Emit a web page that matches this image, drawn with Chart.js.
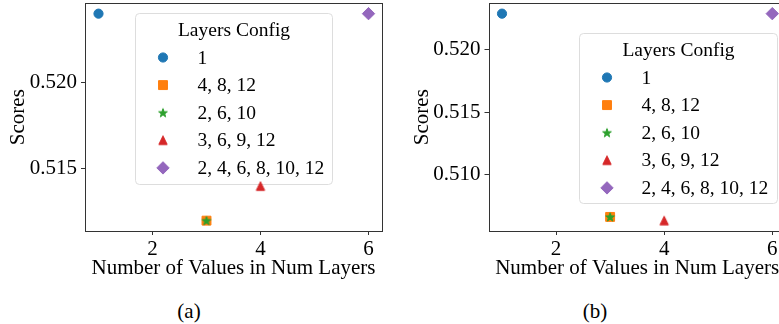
<!DOCTYPE html>
<html>
<head>
<meta charset="utf-8">
<script src="https://cdn.jsdelivr.net/npm/chart.js@4.4.0/dist/chart.umd.min.js"></script>
<style>
  html, body { margin: 0; padding: 0; background: #fff; overflow: hidden; width: 779px; height: 324px; }
  /* the layout leaves about 7px above the plot area; shift up so the frame sits at y=3 */
  canvas { position: absolute; top: -4px; }
  .caption { position: absolute; top: 298px; font-family: 'Liberation Serif', serif; font-size: 21px; line-height: 26px; color: #000; transform: translateX(-50%); }
</style>
</head>
<body>
<canvas id="chartA" width="390" height="294" style="left:0"></canvas>
<canvas id="chartB" width="410" height="294" style="left:390px"></canvas>
<div class="caption" style="left:189px">(a)</div>
<div class="caption" style="left:595px">(b)</div>
<script>
const configLabels = ['1', '4, 8, 12', '2, 6, 10', '3, 6, 9, 12', '2, 4, 6, 8, 10, 12'];
const numValues = [1, 3, 3, 4, 6];
const scoresA = [0.5240, 0.5120, 0.5120, 0.5140, 0.5240];
const scoresB = [0.5229, 0.5066, 0.5066, 0.5063, 0.5229];
const xTicks = [2, 4, 6];
const yTicksA = [0.515, 0.520];
const yTicksB = [0.510, 0.515, 0.520];
const colors = ['#1f77b4', '#ff7f0e', '#2ca02c', '#d62728', '#9467bd'];

const serif = "'Liberation Serif', 'Times New Roman', serif";

// matplotlib-like filled markers drawn on small canvases
function markerCanvas(color, drawPath) {
    const c = document.createElement('canvas');
    c.width = 12;
    c.height = 12;
    const g = c.getContext('2d');
    g.beginPath();
    drawPath(g);
    g.closePath();
    g.fillStyle = color;
    g.strokeStyle = color;
    g.lineWidth = 1;
    g.fill();
    g.stroke();
    return c;
}

const starImg = markerCanvas(colors[2], g => {
    for (let i = 0; i < 10; i++) {
        const r = i % 2 === 0 ? 4.6 : 1.8;
        const a = -Math.PI / 2 + i * Math.PI / 5;
        g.lineTo(6 + r * Math.cos(a), 6.4 + r * Math.sin(a));
    }
});
const triangleImg = markerCanvas(colors[3], g => {
    g.moveTo(6, 1.6);
    g.lineTo(10.2, 10.2);
    g.lineTo(1.8, 10.2);
});

const markerStyles = ['circle', 'rect', starImg, triangleImg, 'rectRot'];
const markerRadii = [4.6, 6.3, 6, 6, 6.2];

function limits(values, frac) {
    const lo = Math.min(...values), hi = Math.max(...values);
    const pad = (hi - lo) * frac;
    return [lo - pad, hi + pad];
}

function noPadding(s) {
    s.paddingTop = 0;
    s.paddingBottom = 0;
    s.paddingLeft = 0;
    s.paddingRight = 0;
}

const framePlugin = {
    id: 'frame',
    afterDatasetsDraw(chart) {
        const { ctx, chartArea: a } = chart;
        ctx.save();
        ctx.strokeStyle = '#333';
        ctx.lineWidth = 1;
        ctx.strokeRect(Math.round(a.left) + 0.5, Math.round(a.top) + 0.5,
            Math.round(a.right - a.left), Math.round(a.bottom - a.top));
        ctx.restore();
    }
};

const boxLegend = {
    id: 'boxLegend',
    beforeDatasetsDraw(chart, args, opts) {
        const { ctx, chartArea } = chart;
        const x = Math.round(chartArea.left + opts.dx) + 0.5;
        const y = Math.round(chartArea.top + opts.dy) + 0.5;
        ctx.save();
        ctx.beginPath();
        ctx.roundRect(x, y, opts.width, opts.height, 4);
        ctx.fillStyle = 'rgba(255,255,255,0.8)';
        ctx.fill();
        ctx.strokeStyle = '#dddddd';
        ctx.lineWidth = 1;
        ctx.stroke();
        ctx.font = '19.5px ' + serif;
        ctx.fillStyle = '#000';
        ctx.textBaseline = 'middle';
        ctx.textAlign = 'center';
        ctx.fillText(opts.title, x + opts.width / 2, y + 17);
        ctx.textAlign = 'left';
        chart.data.datasets.forEach((ds, i) => {
            const ry = y + 44 + i * 27.6;
            ctx.fillStyle = ds.backgroundColor;
            ctx.strokeStyle = ds.borderColor;
            Chart.helpers.drawPoint(ctx, {
                pointStyle: ds.pointStyle, radius: ds.pointRadius, rotation: 0, borderWidth: 1
            }, x + 27.5, ry);
            ctx.fillStyle = '#000';
            ctx.fillText(ds.label, x + 62, ry + 1);
        });
        ctx.restore();
    }
};

function makeChart(canvasId, scores, yTicks, yWidth, yTitlePad, legendPos) {
    const [xMin, xMax] = limits(numValues, 0.05);
    const [yMin, yMax] = limits(scores, 0.05);
    const datasets = configLabels.map((label, i) => ({
        label: label,
        data: [{ x: numValues[i], y: scores[i] }],
        backgroundColor: colors[i],
        borderColor: colors[i],
        borderWidth: 1,
        pointStyle: markerStyles[i],
        pointRadius: markerRadii[i],
        order: configLabels.length - i
    }));

    const tickFont = { family: serif, size: 21 };

    return new Chart(document.getElementById(canvasId), {
        type: 'scatter',
        data: { datasets: datasets },
        options: {
            responsive: false,
            animation: false,
            layout: { padding: { top: 3, right: legendPos.right, left: 0, bottom: 0 } },
            plugins: {
                legend: { display: false },
                tooltip: { enabled: false },
                boxLegend: legendPos
            },
            scales: {
                x: {
                    type: 'linear',
                    min: xMin,
                    max: xMax,
                    afterBuildTicks: s => { s.ticks = xTicks.map(v => ({ value: v })); },
                    afterFit: s => { s.height = 59; noPadding(s); },
                    ticks: { font: tickFont, color: '#000', padding: 2, callback: v => String(v) },
                    grid: { drawOnChartArea: false, drawTicks: true, tickLength: 4, color: '#333' },
                    border: { display: false },
                    title: {
                        display: true,
                        text: 'Number of Values in Num Layers',
                        font: tickFont,
                        color: '#000',
                        padding: { top: 0, bottom: 9 }
                    }
                },
                y: {
                    type: 'linear',
                    min: yMin,
                    max: yMax,
                    afterBuildTicks: s => { s.ticks = yTicks.map(v => ({ value: v })); },
                    afterFit: s => { s.width = yWidth; noPadding(s); },
                    ticks: { font: tickFont, color: '#000', padding: 4, callback: v => v.toFixed(3) },
                    grid: { drawOnChartArea: false, drawTicks: true, tickLength: 4, color: '#333' },
                    border: { display: false },
                    title: {
                        display: true,
                        text: 'Scores',
                        font: tickFont,
                        color: '#000',
                        padding: { top: yTitlePad, bottom: 0 }
                    }
                }
            }
        },
        plugins: [framePlugin, boxLegend]
    });
}

makeChart('chartA', scoresA, yTicksA, 85, 6,
    { title: 'Layers Config', dx: 49.5, dy: 9.5, width: 197, height: 171, right: 8 });
makeChart('chartB', scoresB, yTicksB, 98.5, 20,
    { title: 'Layers Config', dx: 90.8, dy: 29.3, width: 198, height: 170, right: 14.2 });
</script>
</body>
</html>
